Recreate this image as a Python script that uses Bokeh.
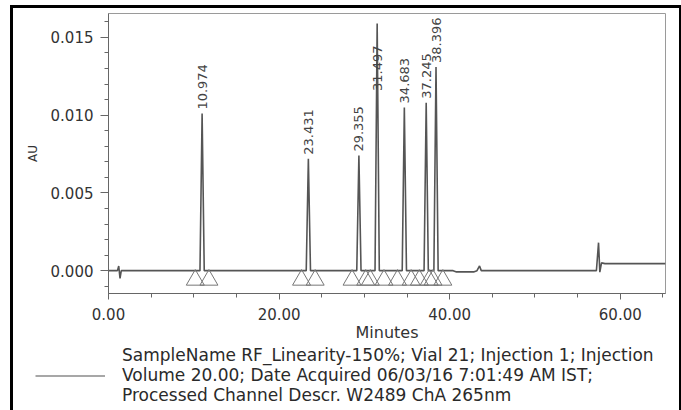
import numpy as np
from bokeh.plotting import figure
from bokeh.layouts import column
from bokeh.models import (Range1d, FixedTicker, NumeralTickFormatter, Legend,
                          LegendItem, ColumnDataSource)
from bokeh.embed import file_html
from bokeh.resources import INLINE
from bokeh.core.properties import value

# ---------------- data ----------------
peak_rt = [10.974, 23.431, 29.355, 31.497, 34.683, 37.245, 38.396]
peak_au = [0.0101, 0.0072, 0.0074, 0.0159, 0.0105, 0.0108, 0.0131]
peak_labels = ["10.974", "23.431", "29.355", "31.497", "34.683", "37.245", "38.396"]
# height (AU) at which each retention-time label starts
label_au = [0.0101, 0.0072, 0.0074, 0.0113, 0.0105, 0.0108, 0.0131]
peak_half_base = 0.25  # minutes

# baseline events away from the labelled peaks (time in min, AU)
event_t = [0.0, 1.05, 1.2, 1.35, 1.5, 40.4, 40.8, 42.8, 43.2, 43.5, 43.7,
           57.2, 57.45, 57.6, 57.8, 58.2, 65.3]
event_au = [0.0, 0.0, 0.0003, -0.0005, 0.0, 0.0, -0.00008, -0.00008, 0.0, 0.0003, 0.0,
            0.0, 0.0018, -0.0001, 0.0005, 0.00045, 0.00045]

# integration markers offset each side of a peak (minutes)
marker_offset = 0.8
marker_au = -0.0006

x_ticks = [0, 20, 40, 60]
y_ticks = [0.0, 0.005, 0.010, 0.015]

legend_lines = ["SampleName RF_Linearity-150%; Vial 21; Injection 1; Injection",
                "Volume 20.00; Date Acquired 06/03/16 7:01:49 AM IST;",
                "Processed Channel Descr. W2489 ChA 265nm"]

# ---------------- build trace ----------------
pts = list(zip(event_t, event_au))
for rt, h in zip(peak_rt, peak_au):
    pts += [(rt - peak_half_base, 0.0), (rt, h), (rt + peak_half_base, 0.0)]
pts.sort(key=lambda q: q[0])
trace_src = ColumnDataSource(dict(t=[q[0] for q in pts], au=[q[1] for q in pts]))

tri_x, tri_y = [], []
for rt in peak_rt:
    tri_x += [rt - marker_offset, rt + marker_offset]
    tri_y += [marker_au, marker_au]

lab_src = ColumnDataSource(dict(x=peak_rt, y=label_au, text=peak_labels))

font = "DejaVu Sans"
trace_color = "#555555"

# ---------------- chart ----------------
p = figure(width=666, height=336, output_backend="svg", toolbar_location=None,
           x_range=Range1d(0, 65.3), y_range=Range1d(-0.00147, 0.01654),
           min_border_left=95, min_border_right=14, min_border_top=5,
           min_border_bottom=50)
p.frame_align = False
p.background_fill_color = "white"
p.border_fill_color = "white"
p.outline_line_color = "#9a9a9a"
p.outline_line_width = 1
p.grid.visible = False

trace = p.line("t", "au", source=trace_src, line_color=trace_color, line_width=1.6)
p.scatter(tri_x, tri_y, marker="triangle", size=18, fill_color=None,
          line_color="#777777", line_width=1)
p.text("x", "y", text="text", source=lab_src, angle=np.pi / 2, text_align="left",
       text_baseline="middle", y_offset=-4, text_font=value(font),
       text_font_size="13px", text_color="#444444")

for ax in (p.xaxis[0], p.yaxis[0]):
    ax.axis_line_color = "#666666"
    ax.major_tick_line_color = "#666666"
    ax.minor_tick_line_color = "#666666"
    ax.major_tick_in = 0
    ax.minor_tick_in = 0
    ax.minor_tick_out = 4
    ax.major_label_text_font = font
    ax.major_label_text_font_size = "15px"
    ax.major_label_text_color = "#333333"
    ax.axis_label_text_font = font
    ax.axis_label_text_font_style = "normal"
    ax.axis_label_text_color = "#333333"

p.xaxis.ticker = FixedTicker(ticks=x_ticks, minor_ticks=list(range(0, 66, 5)))
p.xaxis.formatter = NumeralTickFormatter(format="0.00")
p.xaxis.major_tick_out = 6
p.xaxis.major_label_standoff = 8
p.xaxis.axis_label = "Minutes"
p.xaxis.axis_label_text_font_size = "16px"
p.xaxis.axis_label_standoff = 0

p.yaxis.ticker = FixedTicker(ticks=y_ticks,
                             minor_ticks=[round(i * 0.001, 3) for i in range(-1, 17)])
p.yaxis.formatter = NumeralTickFormatter(format="0.000")
p.yaxis.major_tick_out = 8
p.yaxis.major_label_standoff = 7
p.yaxis.axis_label = "AU"
p.yaxis.axis_label_text_font_size = "12px"
p.yaxis.axis_label_standoff = 8

# ---------------- legend strip under the chart ----------------
p2 = figure(width=666, height=66, output_backend="svg", toolbar_location=None,
            x_range=Range1d(0, 1), y_range=Range1d(0, 1),
            x_axis_type=None, y_axis_type=None, min_border=0)
p2.frame_align = False
p2.outline_line_color = None
p2.background_fill_color = "white"
p2.border_fill_color = "white"
# legend-key renderers (kept outside the visible range)
key_line = p2.line(x=[-1, -2], y=[-1, -1], line_color="#8a8a8a", line_width=1.6)
no_key = p2.line(x=[-1, -2], y=[-1, -1], line_alpha=0)

legend = Legend(items=[LegendItem(label=value(legend_lines[0]), renderers=[no_key]),
                       LegendItem(label=value(legend_lines[1]), renderers=[key_line]),
                       LegendItem(label=value(legend_lines[2]), renderers=[no_key])],
                location=(22, 5), border_line_color=None, background_fill_alpha=0,
                glyph_width=70, glyph_height=19, label_height=19, label_standoff=17,
                padding=0, margin=0, spacing=0, label_text_font=font,
                label_text_font_size="17px", label_text_color="#2a2a2a")
p2.add_layout(legend)

layout = column(p, p2, spacing=0, margin=(5, 0, 0, 10),
                styles={"border": "3px solid black"})

open("out.html", "w").write(file_html(layout, INLINE))
